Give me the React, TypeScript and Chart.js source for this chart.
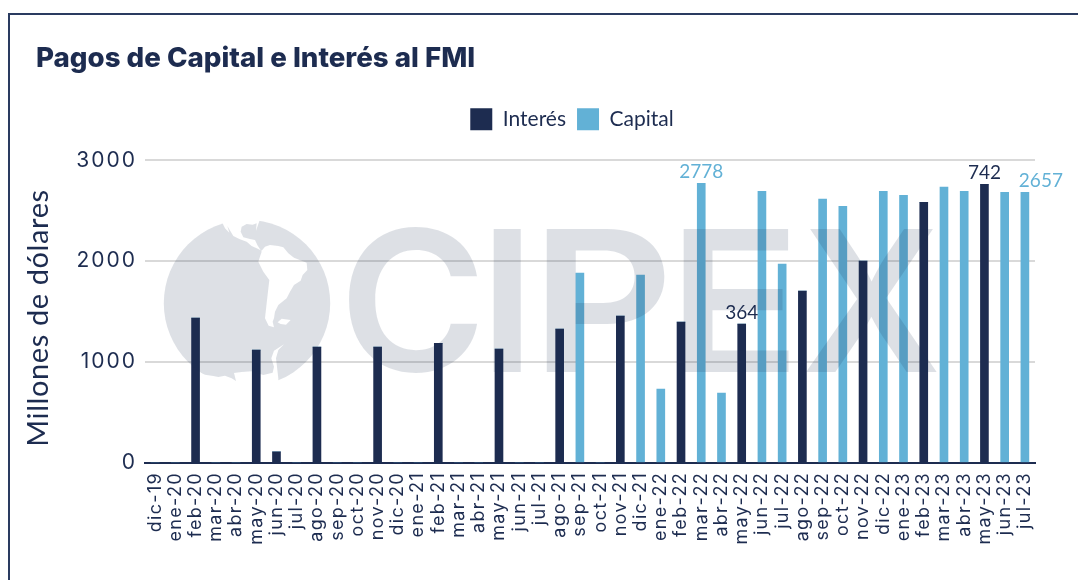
import React, { useEffect, useRef } from "react";
import { Chart, registerables } from "chart.js";

Chart.register(...registerables);

const categories = [
  "dic-19", "ene-20", "feb-20", "mar-20", "abr-20", "may-20", "jun-20", "jul-20", "ago-20", "sep-20", "oct-20",
  "nov-20", "dic-20", "ene-21", "feb-21", "mar-21", "abr-21", "may-21", "jun-21", "jul-21", "ago-21", "sep-21",
  "oct-21", "nov-21", "dic-21", "ene-22", "feb-22", "mar-22", "abr-22", "may-22", "jun-22", "jul-22", "ago-22",
  "sep-22", "oct-22", "nov-22", "dic-22", "ene-23", "feb-23", "mar-23", "abr-23", "may-23", "jun-23", "jul-23",
];

const interes = [
  0, 0, 1435, 0, 0, 1119, 110, 0, 1148, 0, 0,
  1148, 0, 0, 1185, 0, 0, 1130, 0, 0, 1327, 0,
  0, 1455, 0, 0, 1396, 0, 0, 1376, 0, 0, 1703,
  0, 0, 2000, 0, 0, 2584, 0, 0, 2762, 0, 0,
];

const capital = [
  0, 0, 0, 0, 0, 0, 0, 0, 0, 0, 0,
  0, 0, 0, 0, 0, 0, 0, 0, 0, 0, 1881,
  0, 0, 1861, 733, 0, 2772, 693, 0, 2693, 1970, 0,
  2614, 2544, 0, 2693, 2653, 0, 2733, 2693, 0, 2683, 2683,
];

const yTicks = [0, 1000, 2000, 3000];

// Printed value labels: [dataset, category, text, horizontal nudge]
const valueLabels: [number, string, string, number][] = [
  [1, "mar-22", "2778", 0],
  [0, "may-22", "364", 0],
  [0, "may-23", "742", 0],
  [1, "jul-23", "2657", 16],
];

const NAVY = "#1d2c50";
const BLUE = "#62b1d6";
const FONT = "Lato";
const WM_FILL = "rgba(29,44,80,0.15)";

// Watermark letters: [text, left, right, top, bottom]
const letters: [string, number, number, number, number][] = [
  ["C", 349, 478, 227, 373],
  ["I", 493, 521, 229, 372],
  ["P", 546, 665, 229, 372],
  ["E", 683, 789, 229, 372],
  ["X", 806, 937, 229, 372],
];

function spaced(scale: any, spacing: string) {
  if (scale.__spaced) return;
  scale.__spaced = true;
  const orig = scale.drawLabels;
  scale.drawLabels = function (area: any) {
    const ctx = this.ctx;
    ctx.save();
    ctx.letterSpacing = spacing;
    orig.call(this, area);
    ctx.restore();
  };
}

const overlayLabels = {
  id: "overlayLabels",
  beforeLayout(chart: any) {
    const legend = chart.legend;
    if (!legend.__tall) {
      legend.__tall = true;
      const fit = legend.fit;
      legend.fit = function () {
        fit.call(this);
        this.height += 20;
      };
    }
  },
  afterLayout(chart: any) {
    chart.titleBlock.left = 36;
    chart.legend.left = 72;
    chart.legend.right = 1072;
    spaced(chart.scales.x, "1.3px");
    spaced(chart.scales.y, "2px");
  },
  afterDatasetsDraw(chart: any) {
    const ctx = chart.ctx;
    ctx.save();
    ctx.font = "600 200px Inter";
    ctx.textAlign = "left";
    ctx.textBaseline = "alphabetic";
    ctx.fillStyle = WM_FILL;
    letters.forEach(([t, l, r, top, bottom]) => {
      const m = ctx.measureText(t);
      const inkW = m.actualBoundingBoxLeft + m.actualBoundingBoxRight;
      const inkH = m.actualBoundingBoxAscent + m.actualBoundingBoxDescent;
      const sx = (r - l) / inkW;
      const sy = (bottom - top) / inkH;
      ctx.save();
      ctx.translate(l + m.actualBoundingBoxLeft * sx, bottom - m.actualBoundingBoxDescent * sy);
      ctx.scale(sx, sy);
      ctx.fillText(t, 0, 0);
      ctx.restore();
    });
    ctx.restore();
  },
  afterDraw(chart: any) {
    const ctx = chart.ctx;
    ctx.save();
    ctx.font = `19px ${FONT}`;
    ctx.textAlign = "center";
    ctx.textBaseline = "bottom";
    valueLabels.forEach(([ds, cat, text, dx]) => {
      const el = chart.getDatasetMeta(ds).data[categories.indexOf(cat)];
      ctx.fillStyle = ds === 0 ? NAVY : BLUE;
      ctx.fillText(text, el.x + dx, el.y - 2);
    });
    ctx.translate(38.5, 318);
    ctx.rotate(-Math.PI / 2);
    ctx.font = `29px ${FONT}`;
    ctx.letterSpacing = "0.6px";
    ctx.fillStyle = NAVY;
    ctx.textBaseline = "middle";
    ctx.fillText("Millones de dólares", 0, 0);
    ctx.restore();
  },
};

function Globe() {
  return (
    <svg width={1078} height={580} style={{ position: "absolute", left: 0, top: 0, pointerEvents: "none" }}>
      <defs>
        <mask id="land" maskUnits="userSpaceOnUse" x="0" y="0" width="1078" height="580">
          <circle cx={247} cy={303.2} r={83.2} fill="#fff" />
          <g transform="translate(150 210) scale(0.3333)" fill="#000">
            <path d="M210 25 L217 38 L225 55 L238 68 L232 48 L250 78 L268 87 L290 95 L305 108 L320 115 L335 122 L345 110 L360 105 L385 108 L400 112 L415 130 L432 143 L470 158 L472 180 L458 195 L452 212 L432 225 L420 245 L410 265 L385 285 L375 305 L372 325 L368 335 L372 352 L356 347 L345 325 L350 280 L358 210 L340 185 L325 155 L335 125 L322 105 L315 90 L300 87 L280 82 L272 65 L275 50 L290 42 L308 44 L320 40 L318 62 L324 45 L330 28 Z" />
            <path d="M383 337 L395 326 L422 330 L408 344 L392 342 Z" />
            <path d="M150 492 L190 498 L205 501 L225 497 L245 505 L258 513 L252 489 L275 486 L305 484 L340 495 L368 488 L372 470 L364 445 L372 422 L402 403 L385 420 L378 445 L385 505 L385 550 L150 550 Z" />
          </g>
        </mask>
      </defs>
      <rect x={150} y={210} width={200} height={190} fill={NAVY} fillOpacity={0.15} mask="url(#land)" />
    </svg>
  );
}

export default function App() {
  const ref = useRef<HTMLCanvasElement>(null);
  useEffect(() => {
    const chart = new Chart(ref.current!, {
      type: "bar",
      data: {
        labels: categories,
        datasets: [
          { label: "Interés", data: interes, backgroundColor: NAVY, barThickness: 8 },
          { label: "Capital", data: capital, backgroundColor: BLUE, barThickness: 8 },
        ],
      },
      plugins: [overlayLabels],
      options: {
        responsive: false,
        animation: false,
        layout: { padding: { left: 27, right: 43, top: 0, bottom: 0 } },
        plugins: {
          tooltip: { enabled: false },
          title: {
            display: true,
            text: "Pagos de Capital e Interés al FMI",
            align: "start",
            color: NAVY,
            font: { family: "Inter", size: 27.7, weight: "800" },
            padding: { top: 42.5, bottom: 21.5 },
          },
          legend: {
            display: true,
            position: "top",
            labels: {
              boxWidth: 22,
              boxHeight: 22,
              color: NAVY,
              padding: 11,
              font: { family: FONT, size: 21 },
            },
          },
        },
        scales: {
          x: {
            stacked: true,
            afterFit: (s: any) => {
              s.height = 117;
            },
            grid: { display: false, drawTicks: false },
            border: { color: NAVY, width: 2 },
            ticks: {
              autoSkip: false,
              minRotation: 90,
              maxRotation: 90,
              color: NAVY,
              padding: 9,
              font: { family: "Inter", size: 18 },
            },
          },
          y: {
            stacked: true,
            min: 0,
            max: 3000,
            afterFit: (s: any) => {
              s.width = 118;
            },
            afterBuildTicks: (s: any) => {
              s.ticks = yTicks.map((value) => ({ value }));
            },
            grid: { color: "#d9d9d9", lineWidth: 2, drawTicks: false },
            border: { display: false },
            ticks: {
              color: NAVY,
              padding: 8,
              callback: (v: any) => String(v),
              font: { family: "Inter", size: 21 },
            },
          },
        },
      },
    });
    return () => chart.destroy();
  }, []);
  return (
    <div style={{ position: "absolute", left: 0, top: 0, width: 1078, height: 580, overflow: "hidden", background: "#fff" }}>
      <canvas ref={ref} width={1078} height={580} style={{ display: "block" }} />
      <Globe />
      <div
        style={{
          position: "absolute",
          left: 8,
          top: 13,
          width: 1070,
          height: 567,
          boxSizing: "border-box",
          borderTop: "2px solid #2a3b60",
          borderLeft: "2px solid #2a3b60",
        }}
      />
    </div>
  );
}
